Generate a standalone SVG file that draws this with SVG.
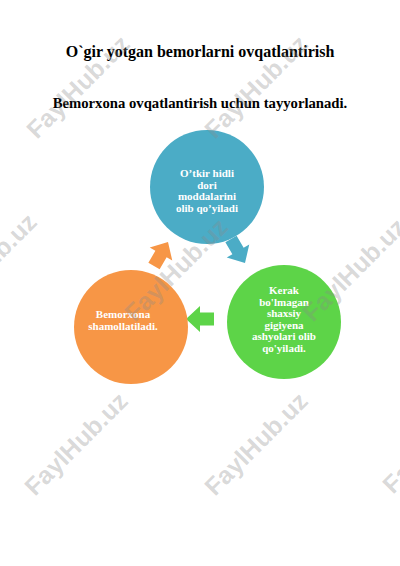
<svg xmlns="http://www.w3.org/2000/svg" width="400" height="566" viewBox="0 0 400 566">
<defs>
<style>
.title{font-family:"Liberation Serif","Times New Roman",serif;font-weight:bold;fill:#000;text-anchor:middle}
.lbl{font-family:"Liberation Serif","Times New Roman",serif;font-weight:bold;font-size:11px;fill:#fff;text-anchor:middle}
.wm{font-family:"Liberation Sans",Arial,sans-serif;font-weight:bold;font-size:25px;fill:#8a8a8a;fill-opacity:0.33}
</style>
<polygon id="arr" points="-14,-6.5 0,-6.5 0,-13 14,0 0,13 0,6.5 -14,6.5"/>
</defs>
<rect width="400" height="566" fill="#fff"/>
<text class="title" x="200" y="57" font-size="16">O`gir yotgan bemorlarni ovqatlantirish</text>
<text class="title" x="200" y="108" font-size="14.7">Bemorxona ovqatlantirish uchun tayyorlanadi.</text>
<g id="connectors">
<use href="#arr" fill="#4BACC6" transform="translate(238,251) rotate(60)"/>
<use href="#arr" fill="#5DD448" transform="translate(200,319) rotate(180)"/>
<use href="#arr" fill="#F79646" transform="translate(161,254) rotate(-60)"/>
</g>
<g id="node-blue">
<circle cx="207" cy="187" r="57" fill="#4BACC6"/>
<text class="lbl" x="207" y="177">O’tkir hidli</text>
<text class="lbl" x="207" y="188.5">dori</text>
<text class="lbl" x="207" y="200">moddalarini</text>
<text class="lbl" x="207" y="211.5">olib qo’yiladi</text>
</g>
<g id="node-green">
<circle cx="284" cy="322" r="57" fill="#5DD448"/>
<text class="lbl" x="284" y="294">Kerak</text>
<text class="lbl" x="284" y="305.5">bo'lmagan</text>
<text class="lbl" x="284" y="317">shaxsiy</text>
<text class="lbl" x="284" y="328.5">gigiyena</text>
<text class="lbl" x="284" y="340">ashyolari olib</text>
<text class="lbl" x="284" y="351.5">qo'yiladi.</text>
</g>
<g id="node-orange">
<circle cx="131" cy="327" r="57" fill="#F79646"/>
<text class="lbl" x="123" y="318">Bemorxona</text>
<text class="lbl" x="123" y="329.5">shamollatiladi.</text>
</g>
<g id="watermarks">
<text class="wm" transform="translate(37,140) rotate(-45)">FaylHub.uz</text>
<text class="wm" transform="translate(215,140) rotate(-45)">FaylHub.uz</text>
<text class="wm" transform="translate(-56,318) rotate(-45)">FaylHub.uz</text>
<text class="wm" transform="translate(135,323) rotate(-45)">FaylHub.uz</text>
<text class="wm" transform="translate(313,323) rotate(-45)">FaylHub.uz</text>
<text class="wm" transform="translate(35,497) rotate(-45)">FaylHub.uz</text>
<text class="wm" transform="translate(215,497) rotate(-45)">FaylHub.uz</text>
<text class="wm" transform="translate(393,495) rotate(-45)">FaylHub.uz</text>
</g>
</svg>
